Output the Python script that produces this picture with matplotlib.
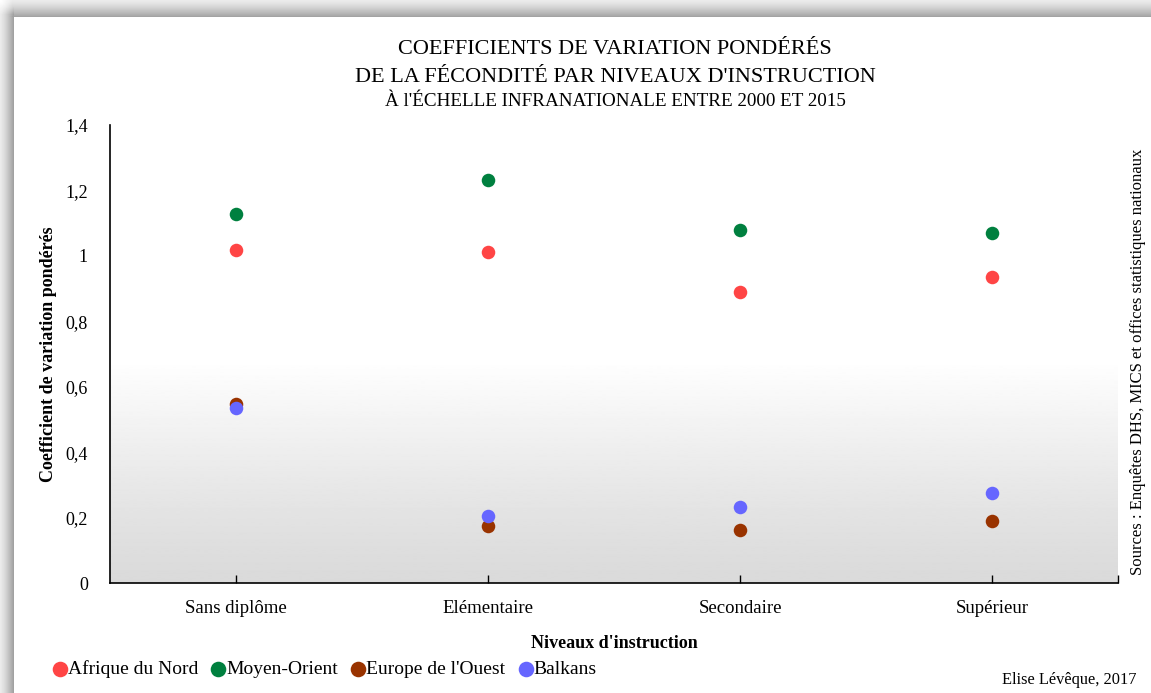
import numpy as np
import matplotlib.pyplot as plt

plt.rcParams['font.family'] = ['Liberation Serif', 'DejaVu Serif']

# Données
niveaux = ["Sans diplôme", "Elémentaire", "Secondaire", "Supérieur"]
afrique_nord = [1.018, 1.012, 0.890, 0.936]
moyen_orient = [1.128, 1.232, 1.080, 1.070]
europe_ouest = [0.547, 0.174, 0.162, 0.190]
balkans = [0.535, 0.205, 0.232, 0.275]

series = [
    ("Afrique du Nord", afrique_nord, "#ff4545"),
    ("Moyen-Orient", moyen_orient, "#00803f"),
    ("Europe de l'Ouest", europe_ouest, "#993300"),
    ("Balkans", balkans, "#6666ff"),
]
y_ticks = [0, 0.2, 0.4, 0.6, 0.8, 1, 1.2, 1.4]

W, H = 1151, 693
fig = plt.figure(figsize=(W / 100, H / 100), dpi=100)

# Cadre avec ombre (haut et gauche)
rows = np.arange(H)[:, None].astype(float)
cols = np.arange(W)[None, :].astype(float)
top_band, left_band = 17, 14
d_top = np.where(rows < top_band, 0.08 + 0.30 * (rows / top_band) ** 1.3, 0.0)
d_top = d_top * np.clip(cols / 12.0, 0, 1)
d_left = np.where(cols < left_band, 0.08 + 0.32 * (cols / left_band) ** 1.3, 0.0)
d_left = d_left * np.clip(rows / 14.0, 0, 1)
bg = 1 - np.maximum(d_top, d_left)
bg_ax = fig.add_axes([0, 0, 1, 1])
bg_ax.imshow(bg, cmap="gray", vmin=0, vmax=1, aspect="auto", interpolation="bilinear")
bg_ax.axis("off")

ax = fig.add_axes([110 / W, 1 - 583 / H, (1118 - 110) / W, (583 - 125) / H])
ax.set_xlim(-0.5, 3.5)
ax.set_ylim(0, 1.4)

# Dégradé du fond de la zone de tracé
yy = np.linspace(1.4, 0, 400)
grad = np.where(yy > 0.68, 1.0, 0.855 + 0.145 * (yy / 0.68) ** 1.2)
ax.imshow(grad[:, None], cmap="gray", vmin=0, vmax=1, aspect="auto",
          extent=(-0.5, 3.5, 0, 1.4), zorder=0, interpolation="bilinear")

x = np.arange(len(niveaux))
for name, vals, col in series:
    ax.scatter(x, vals, s=95, color=col, label=name, zorder=3, linewidths=0)

for s in ["top", "right"]:
    ax.spines[s].set_visible(False)
ax.spines["left"].set_linewidth(1.2)
ax.spines["bottom"].set_linewidth(1.2)

ax.set_xticks(x)
ax.set_xticklabels(niveaux, fontsize=13.5)
ax.set_xticks([3.5], minor=True)
ax.tick_params(axis="x", which="both", direction="in", length=6, width=1, pad=12)
ax.set_yticks(y_ticks)
ax.set_yticklabels([("%g" % v).replace(".", ",") for v in y_ticks], fontsize=13)
ax.tick_params(axis="y", length=0, pad=16)

ax.set_xlabel("Niveaux d'instruction", fontsize=13, fontweight="bold", labelpad=13)
ax.set_ylabel("Coefficient de variation pondérés", fontsize=13, fontweight="bold", labelpad=6)

fig.text(615 / W, 1 - 50 / H, "COEFFICIENTS DE VARIATION PONDÉRÉS",
         ha="center", va="center", fontsize=16)
fig.text(615 / W, 1 - 77 / H, "DE LA FÉCONDITÉ PAR NIVEAUX D'INSTRUCTION",
         ha="center", va="center", fontsize=16)
fig.text(615 / W, 1 - 101 / H, "À l'ÉCHELLE INFRANATIONALE ENTRE 2000 ET 2015",
         ha="center", va="center", fontsize=13.8)

fig.text(1138 / W, 1 - 362 / H, "Sources : Enquêtes DHS, MICS et offices statistiques nationaux",
         rotation=90, ha="center", va="center", fontsize=12)
fig.text(1137 / W, 1 - 680 / H, "Elise Lévêque, 2017", ha="right", va="center", fontsize=11.8)

leg = fig.legend(loc="center left", bbox_to_anchor=(50 / W, 1 - 669 / H), ncol=4,
                 frameon=False, fontsize=14, handletextpad=-0.1, columnspacing=0.55,
                 handlelength=1.0, markerscale=1.15, borderaxespad=0, borderpad=0)

fig.savefig("out.png", dpi=100)
